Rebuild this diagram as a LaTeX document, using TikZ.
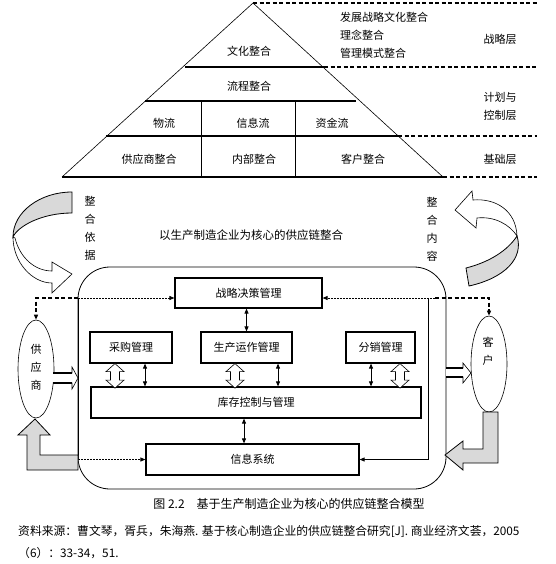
\documentclass[tikz,border=0pt]{standalone}
\usepackage{fontspec}
\setmainfont{Noto Sans CJK SC}
\usetikzlibrary{shapes.geometric,arrows.meta}

\tikzset{
  lbl/.style={font=\fontsize{11}{18}\selectfont,inner sep=0pt,align=center},
  box/.style={draw,line width=1.2pt,inner sep=0pt,font=\fontsize{11}{13}\selectfont},
  bar/.style={line width=1.8pt},
  dashbar/.style={line width=1.8pt,dash pattern=on 4pt off 2.5pt},
  thindot/.style={line width=0.8pt,dash pattern=on 2pt off 1pt},
  tip/.style={-{Triangle[length=5pt,width=4pt]}},
  dtip/.style={{Triangle[length=5pt,width=4pt]}-{Triangle[length=5pt,width=4pt]}},
  hollow/.style={draw,fill=white,line width=0.6pt},
  grayarr/.style={draw,fill=gray!30,line width=0.8pt}
}

\begin{document}
\begin{tikzpicture}[x=1pt,y=-1pt]
        \useasboundingbox (0,0) rectangle (555,564);
        %pyramid
        \draw[line width=0.6pt] (62,177)--(253,3)--(443,177);
        \draw[bar] (185,67)--(324,67);
        \draw[bar] (145,101)--(356,101);
        \draw[bar] (106,136)--(398,136);
        \draw[bar] (62,177)--(443,177);
        \draw[line width=0.6pt] (201,101)--(201,177);
        \draw[line width=0.6pt] (295,101)--(295,177);
        %tratteggi
        \draw[dashbar] (253,3)--(537,3);
        \draw[dashbar] (324,67)--(537,67);
        \draw[dashbar] (398,136)--(537,136);
        \draw[dashbar] (443,177)--(537,177);
        \node[lbl] (culture) at (249,51) {文化整合};
        \node[lbl] (process) at (249,86) {流程整合};
        \node[lbl] (logis) at (164,123) {物流};
        \node[lbl] (infoflow) at (253,123) {信息流};
        \node[lbl] (capital) at (332,123) {资金流};
        \node[lbl] (supint) at (149,159) {供应商整合};
        \node[lbl] (inner) at (254,159) {内部整合};
        \node[lbl] (custint) at (363,159) {客户整合};
        \node[lbl,anchor=west] (strat1) at (340,17) {发展战略文化整合};
        \node[lbl,anchor=west] (strat2) at (340,35) {理念整合};
        \node[lbl,anchor=west] (strat3) at (340,53) {管理模式整合};
        \node[lbl] (layer1) at (500,39) {战略层};
        \node[lbl] (layer2) at (500,106) {计划与\\控制层};
        \node[lbl] (layer3) at (500,159) {基础层};

        %curved arrows
        \draw[grayarr] (72,192) .. controls (40,192) and (13,212) .. (13,237)
        .. controls (18,226) and (42,213) .. (72,213) -- cycle;
        \draw[hollow] (13,237) .. controls (13,262) and (32,283) .. (52,283)
        --(52,293)--(72,274)--(52,262)--(52,271)
        .. controls (35,271) and (20,258) .. (15,238) -- cycle;
        \draw[hollow] (517,236) .. controls (516,210) and (495,198) .. (473,200)
        --(472,191)--(455,210)--(476,228)--(477,218)
        .. controls (495,216) and (510,225) .. (517,236) -- cycle;
        \draw[grayarr] (517,236) .. controls (524,258) and (505,278) .. (469,286)
        --(466,268) .. controls (490,262) and (508,250) .. (517,236) -- cycle;
        \node[lbl] (basis) at (90,228) {整\\合\\依\\据};
        \node[lbl] (content) at (432,229) {整\\合\\内\\容};
        \node[lbl,font=\fontsize{11.5}{14}\selectfont] (title) at (251,235) {以生产制造企业为核心的供应链整合};

        %core enterprise
        \draw[line width=0.8pt,rounded corners=32pt] (78,267) rectangle (446,489);
        \node[box,minimum width=147pt,minimum height=30pt] (strat) at (248.5,293) {战略决策管理};
        \node[box,minimum width=82pt,minimum height=31pt] (buy) at (131,347.5) {采购管理};
        \node[box,minimum width=91pt,minimum height=31pt] (prod) at (246.5,347.5) {生产运作管理};
        \node[box,minimum width=69pt,minimum height=31pt] (dist) at (380.5,347.5) {分销管理};
        \node[box,minimum width=330pt,minimum height=31pt] (inv) at (256,402.5) {库存控制与管理};
        \node[box,minimum width=213pt,minimum height=31pt] (info) at (252.5,459.5) {信息系统};

        \node[draw,ellipse,line width=0.6pt,minimum width=36pt,minimum height=98pt,inner sep=0pt] (sup) at (36,369) {};
        \node[lbl] (suptext) at (36,367) {供\\应\\商};
        \node[draw,ellipse,line width=0.6pt,minimum width=36pt,minimum height=96pt,inner sep=0pt] (cust) at (489,364) {};
        \node[lbl] (custtext) at (488,351) {客\\户};

        %connectors
        \coordinate (ltop) at (78,298);
        \coordinate (rtop) at (435,298);
        \coordinate (rv) at (428,298);
        \draw[thindot,tip] (ltop)--(ltop -| strat.west);
        \draw[dashbar,tip] (ltop) -| (sup.north);
        \draw[thindot,tip] (rtop)--(rtop -| strat.east);
        \draw[dashbar,tip] (rtop) -| (cust.north);
        \draw[line width=0.8pt] (ltop)--(ltop |- info.west);
        \draw[thindot,tip] (ltop |- info.west)--(info.west);
        \draw[line width=0.8pt,tip] (rv) |- (info.east);
        \draw[dtip,line width=0.8pt] (prod.north)--(prod.north |- strat.south);
        \draw[dtip,line width=0.8pt] ([xshift=-8.5pt]info.north)--([xshift=-8.5pt]info.north |- inv.south);
        \foreach \n/\s in {buy/14,prod/31.5,dist/-9.5}
          \draw[dtip,line width=0.8pt] ([xshift=\s pt]\n.south)--([xshift=\s pt]\n.south |- inv.north);
        \foreach \n/\s in {buy/-16,prod/-11.5,dist/19.5}
          \draw[hollow] ([xshift=\s pt]\n.south)--++(9,8)--++(-4.5,0)--++(0,8.5)--++(4.5,0)
          --++(-9,8)--++(-9,-8)--++(4.5,0)--++(0,-8.5)--++(-4.5,0)--cycle;

        %block arrows
        \draw[hollow] (53,373)--(72,373)--(72,367)--(78,378)--(72,389)--(72,383)--(53,383);
        \draw[line width=1.5pt] (53,373)--(72,373) (53,383)--(72,383);
        \draw[hollow] (446,368)--(463,368)--(463,363)--(471,373)--(463,383)--(463,377)--(446,377);
        \draw[line width=1.5pt] (446,368)--(463,368) (446,377)--(463,377);
        \draw[grayarr] (78,455)--(40,455)--(40,435)--(50,435)--(35,419)--(18,435)
        --(27,435)--(27,470)--(78,470)--cycle;
        \draw[grayarr] (483,412)--(483,449)--(463,449)--(463,441)--(445,455)--(463,470)
        --(463,463)--(498,463)--(498,412)--cycle;

        %caption
        \node[lbl,font=\fontsize{12}{14}\selectfont] (caption) at (289,504) {图 2.2\quad 基于生产制造企业为核心的供应链整合模型};
        \node[lbl,anchor=west,font=\fontsize{11.8}{14}\selectfont] (source1) at (18,531) {资料来源：曹文琴，胥兵，朱海燕. 基于核心制造企业的供应链整合研究[J]. 商业经济文荟，2005};
        \node[lbl,anchor=west,font=\fontsize{11.8}{14}\selectfont] (source2) at (18,553) {（6）：33-34，51.};
    \end{tikzpicture}
\end{document}
